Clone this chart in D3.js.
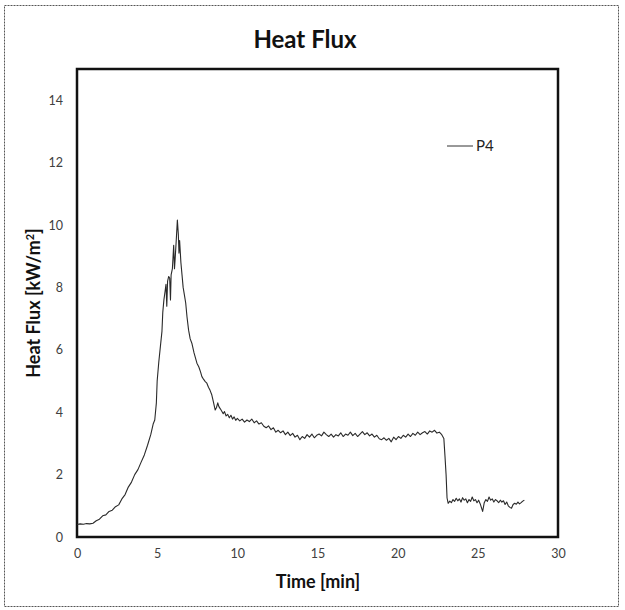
<!DOCTYPE html>
<html>
<head>
<meta charset="utf-8">
<script src="https://cdn.jsdelivr.net/npm/d3@7"></script>
<style>
  body { margin: 0; background: #fff; }
  text { font-family: Lato, "Open Sans", sans-serif; }
</style>
</head>
<body>
<svg id="chart" width="625" height="610"></svg>
<script>
// readings for sensor P4, time in minutes, heat flux in kW/m2
const seriesName = "P4";
const time = [
  0, 0.2, 0.4, 0.6, 0.8, 1.0, 1.2, 1.4, 1.6, 1.8, 2.0, 2.2, 2.4, 2.6, 2.8, 3.0, 3.2, 3.4, 3.6, 3.8,
  4.0, 4.2, 4.4, 4.6, 4.75, 4.85, 4.95, 5.0, 5.1, 5.2, 5.3, 5.35, 5.42, 5.5, 5.55, 5.6, 5.65, 5.72, 5.78, 5.83,
  5.87, 5.95, 6.03, 6.08, 6.12, 6.2, 6.26, 6.32, 6.36, 6.4, 6.48, 6.55, 6.62, 6.7, 6.78, 6.86, 6.96, 7.06, 7.17, 7.3,
  7.48, 7.6, 7.7, 7.79, 7.9, 8.0, 8.1, 8.2, 8.3, 8.41, 8.5, 8.62, 8.7, 8.78, 8.85, 8.95, 9.03, 9.12, 9.2, 9.3,
  9.4, 9.5, 9.6, 9.7, 9.8, 9.9, 10.0, 10.15, 10.3, 10.45, 10.6, 10.75, 10.9, 11.05, 11.2, 11.35, 11.5, 11.65, 11.8, 11.95,
  12.1, 12.25, 12.4, 12.55, 12.7, 12.85, 13.0, 13.15, 13.3, 13.45, 13.6, 13.75, 13.9, 14.05, 14.2, 14.35, 14.5, 14.65, 14.8, 14.95,
  15.1, 15.25, 15.4, 15.55, 15.7, 15.85, 16.0, 16.15, 16.3, 16.45, 16.6, 16.75, 16.9, 17.05, 17.2, 17.35, 17.5, 17.65, 17.8, 17.95,
  18.1, 18.25, 18.4, 18.55, 18.7, 18.85, 19.0, 19.15, 19.3, 19.45, 19.6, 19.75, 19.9, 20.05, 20.2, 20.35, 20.5, 20.65, 20.8, 20.95,
  21.1, 21.25, 21.4, 21.55, 21.7, 21.85, 22.0, 22.15, 22.3, 22.45, 22.6, 22.75, 22.88, 22.95, 23.02, 23.08, 23.15, 23.25, 23.35, 23.45,
  23.55, 23.65, 23.75, 23.85, 23.95, 24.05, 24.15, 24.25, 24.35, 24.45, 24.55, 24.65, 24.75, 24.85, 24.95, 25.05, 25.15, 25.3, 25.4, 25.5,
  25.6, 25.7, 25.8, 25.9, 26.0, 26.1, 26.2, 26.3, 26.4, 26.5, 26.6, 26.7, 26.8, 26.9, 27.0, 27.1, 27.2, 27.3, 27.4, 27.5,
  27.6, 27.7, 27.8, 27.9
];
const flux = [
  0.40, 0.42, 0.41, 0.43, 0.42, 0.44, 0.52, 0.57, 0.68, 0.71, 0.82, 0.86, 0.97, 1.03, 1.22, 1.36, 1.60, 1.76, 2.00, 2.16,
  2.40, 2.63, 2.94, 3.28, 3.62, 3.75, 4.30, 5.00, 5.60, 6.10, 6.60, 7.20, 7.60, 7.90, 8.10, 7.40, 8.20, 8.35, 8.30, 7.60,
  8.40, 8.60, 9.35, 8.60, 8.90, 9.60, 10.16, 9.70, 9.10, 9.50, 8.80, 8.40, 8.00, 7.75, 7.50, 7.06, 6.63, 6.35, 6.20, 5.90,
  5.57, 5.45, 5.30, 5.14, 5.05, 4.98, 4.93, 4.80, 4.70, 4.55, 4.35, 4.07, 4.15, 4.30, 4.18, 4.10, 4.03, 3.95, 4.02, 3.88,
  3.93, 3.82, 3.90, 3.78, 3.85, 3.74, 3.80, 3.72, 3.78, 3.68, 3.75, 3.70, 3.78, 3.66, 3.72, 3.62, 3.66, 3.55, 3.50, 3.56,
  3.44, 3.50, 3.36, 3.42, 3.34, 3.40, 3.28, 3.36, 3.25, 3.32, 3.20, 3.26, 3.12, 3.22, 3.16, 3.28, 3.20, 3.30, 3.18, 3.26,
  3.30, 3.24, 3.36, 3.28, 3.22, 3.30, 3.20, 3.28, 3.24, 3.34, 3.22, 3.30, 3.26, 3.36, 3.25, 3.32, 3.22, 3.30, 3.38, 3.28,
  3.34, 3.24, 3.30, 3.20, 3.26, 3.15, 3.12, 3.18, 3.10, 3.16, 3.05, 3.20, 3.12, 3.22, 3.16, 3.26, 3.20, 3.30, 3.22, 3.32,
  3.26, 3.36, 3.28, 3.34, 3.38, 3.30, 3.40, 3.36, 3.42, 3.33, 3.36, 3.28, 3.16, 2.60, 2.00, 1.25, 1.08, 1.15, 1.10, 1.20,
  1.14, 1.24, 1.16, 1.22, 1.12, 1.26, 1.18, 1.22, 1.10, 1.20, 1.14, 1.28, 1.16, 1.20, 1.10, 1.18, 1.06, 0.82, 1.10, 1.20,
  1.14, 1.28, 1.18, 1.22, 1.12, 1.20, 1.16, 1.10, 1.18, 1.12, 1.16, 1.04, 1.12, 1.00, 0.95, 0.92, 1.04, 1.08, 1.05, 1.12,
  1.06, 1.10, 1.15, 1.18
];
const xTicks = [0, 5, 10, 15, 20, 25, 30];
const yTicks = [0, 2, 4, 6, 8, 10, 12, 14];

const data = time.map((t, i) => ({ t: t, v: flux[i] }));

const svg = d3.select("#chart");
const margin = { left: 77, right: 558, top: 69, bottom: 537 };

// dashed outer border
svg.append("rect")
  .attr("x", 4.5).attr("y", 5.5)
  .attr("width", 614).attr("height", 601)
  .attr("fill", "none")
  .attr("stroke", "#555")
  .attr("stroke-width", 1)
  .attr("stroke-dasharray", "2,1");

let xScale = d3.scaleLinear().domain([0, 30]).range([margin.left, margin.right]);
let yScale = d3.scaleLinear().domain([0, 15]).range([margin.bottom, margin.top]);

// axes, labels only (no tick marks)
let xAxis = svg.append("g")
  .attr("transform", `translate(0,${margin.bottom + 8})`)
  .call(d3.axisBottom(xScale).tickValues(xTicks).tickSize(0).tickPadding(4));
let yAxis = svg.append("g")
  .attr("transform", `translate(${margin.left - 14},0)`)
  .call(d3.axisLeft(yScale).tickValues(yTicks).tickSize(0).tickPadding(0));
[xAxis, yAxis].forEach(a => {
  a.select(".domain").remove();
  a.selectAll("text")
    .style("font-family", "Lato, 'Open Sans', sans-serif")
    .style("font-size", "12.5px")
    .attr("fill", "#404040");
});

// plot frame
svg.append("rect")
  .attr("x", margin.left).attr("y", margin.top)
  .attr("width", margin.right - margin.left)
  .attr("height", margin.bottom - margin.top)
  .attr("fill", "none")
  .attr("stroke", "#111")
  .attr("stroke-width", 2.5);

// the series
let line = d3.line().x(d => xScale(d.t)).y(d => yScale(d.v));
svg.append("path")
  .datum(data)
  .attr("d", line)
  .attr("fill", "none")
  .attr("stroke", "#2a2a2a")
  .attr("stroke-width", 1.1)
  .attr("stroke-linejoin", "round");

// legend
svg.append("line")
  .attr("x1", 447).attr("x2", 473)
  .attr("y1", 146).attr("y2", 146)
  .attr("stroke", "#333").attr("stroke-width", 1);
svg.append("text")
  .attr("x", 476).attr("y", 146)
  .attr("dy", "0.35em")
  .style("font-size", "15px")
  .attr("fill", "#222")
  .text(seriesName);

// titles
svg.append("text")
  .attr("x", 305).attr("y", 48)
  .attr("text-anchor", "middle")
  .style("font-size", "24px")
  .style("font-weight", "bold")
  .attr("fill", "#111")
  .text("Heat Flux");

svg.append("text")
  .attr("x", 318).attr("y", 588)
  .attr("text-anchor", "middle")
  .style("font-size", "18px")
  .style("font-weight", "bold")
  .attr("fill", "#111")
  .text("Time [min]");

let yTitle = svg.append("text")
  .attr("transform", "translate(40,303) rotate(-90)")
  .attr("text-anchor", "middle")
  .style("font-size", "18px")
  .style("font-weight", "bold")
  .attr("fill", "#111");
yTitle.append("tspan").text("Heat Flux [kW/m");
yTitle.append("tspan").attr("baseline-shift", "super").style("font-size", "11px").text("2");
yTitle.append("tspan").text("]");
</script>
</body>
</html>
